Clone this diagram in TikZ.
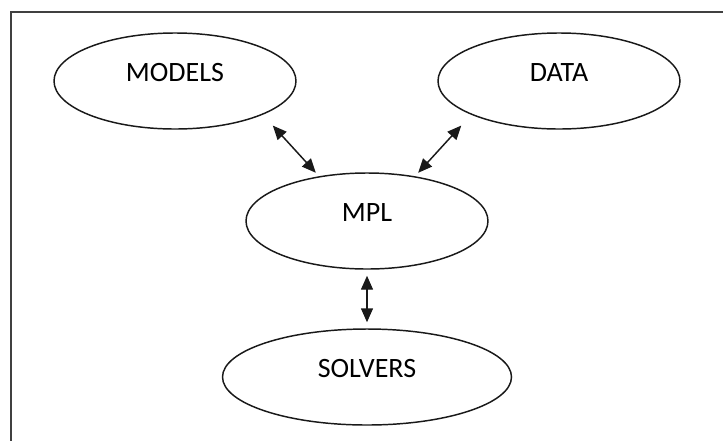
\documentclass[tikz,border=0pt]{standalone}
\usepackage{fontspec}
\setmainfont{Carlito}
\usetikzlibrary{shapes.geometric,arrows.meta}

\begin{document}
\begin{tikzpicture}[x=0.75pt,y=-0.75pt,
    blob/.style={ellipse,draw=black!90,line width=1.1pt,minimum width=181.5pt,minimum height=72pt,
      inner sep=0pt,text height=10pt,text depth=10pt,font=\fontsize{21}{25}\selectfont},
    link/.style={{Triangle[length=10.5pt,width=9pt]}-{Triangle[length=10.5pt,width=9pt]},black!90,line width=1.1pt}]
      \useasboundingbox (0,0) rectangle (723,440);
      % outer frame, runs off the right and bottom
      \draw [black!75,line width=1.8pt] (10.8,12) rectangle (760,480);
      \node [blob] (models) at (175,81) {MODELS};
      \node [blob] (data) at (559,81) {DATA};
      \node [blob] (mpl) at (367,221) {MPL};
      \node [blob,minimum width=216.75pt] (solvers) at (367,377) {SOLVERS};
      \draw [link,shorten <=11pt,shorten >=3.5pt] (models.-21) -- (mpl.137);
      \draw [link,shorten <=11pt,shorten >=3.5pt] (data.201) -- (mpl.43);
      \draw [link,shorten <=4.5pt,shorten >=4.5pt] (mpl.south) -- (solvers.north);
    \end{tikzpicture}
\end{document}
